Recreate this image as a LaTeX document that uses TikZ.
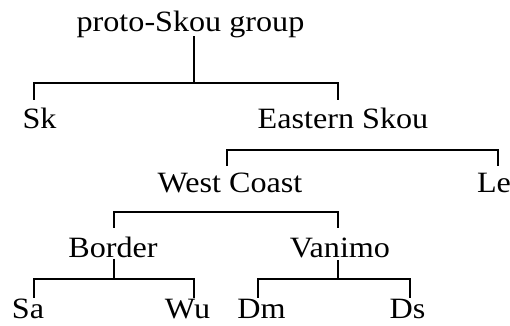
\documentclass[tikz,border=0pt]{standalone}
\usepackage{fontspec}
\setmainfont{Liberation Serif}[FakeStretch=1.09]
\begin{document}
\begin{tikzpicture}[x=1pt,y=-1pt,
  lbl/.style={anchor=base,inner sep=0pt,font=\fontsize{29.5}{32}\selectfont},
  branch/.style={line width=2.3pt,line join=miter,line cap=rect}]
\useasboundingbox (0,0) rectangle (510,325);

% labels
\node[lbl] (root)    at (190.5,31)  {proto-Skou group};
\node[lbl] (sk)      at (39.5,128)  {Sk};
\node[lbl] (eastern) at (343,128)   {Eastern Skou};
\node[lbl] (west)    at (230,192)   {West Coast};
\node[lbl] (le)      at (494,192)   {Le};
\node[lbl] (border)  at (113,257)   {Border};
\node[lbl] (vanimo)  at (340,257)   {Vanimo};
\node[lbl] (sa)      at (28,318)    {Sa};
\node[lbl] (wu)      at (187.5,318) {Wu};
\node[lbl] (dm)      at (261.5,318) {Dm};
\node[lbl] (ds)      at (407.5,318) {Ds};

% junctions and bracket ends
\coordinate (rootJ) at (194,83);
\coordinate (skE)   at (34,99);
\coordinate (esE)   at (338,99);
\coordinate (wcE)   at (227,165);
\coordinate (leE)   at (498,165);
\coordinate (bdE)   at (114,227);
\coordinate (vnE)   at (338,227);
\coordinate (bdJ)   at (114,279);
\coordinate (vnJ)   at (338,279);
\coordinate (saE)   at (34,297);
\coordinate (wuE)   at (194,297);
\coordinate (dmE)   at (258,297);
\coordinate (dsE)   at (410,297);

% proto-Skou group
\draw[branch] (root.south -| rootJ) -- (rootJ);
\draw[branch] (skE) |- (rootJ) -| (esE);
% Eastern Skou
\draw[branch] (wcE) -- ++(0,-15) -| (leE);
% West Coast
\draw[branch] (bdE) -- ++(0,-15) -| (vnE);
% Border
\draw[branch] (border.south -| bdJ) ++(0,3) -- (bdJ);
\draw[branch] (saE) |- (bdJ) -| (wuE);
% Vanimo
\draw[branch] (vanimo.south -| vnJ) ++(0,3) -- (vnJ);
\draw[branch] (dmE) |- (vnJ) -| (dsE);
\end{tikzpicture}
\end{document}
